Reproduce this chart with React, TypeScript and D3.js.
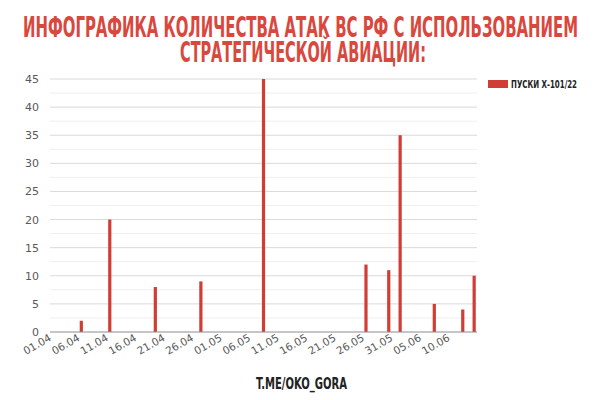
import React from "react";
import * as d3 from "d3";

const titleLines = [
  "ИНФОГРАФИКА КОЛИЧЕСТВА АТАК  ВС РФ С ИСПОЛЬЗОВАНИЕМ",
  "СТРАТЕГИЧЕСКОЙ АВИАЦИИ:",
];
const seriesName = "ПУСКИ Х-101/22";
const footer = "T.ME/OKO_GORA";

const launchDates = ["06.04", "11.04", "19.04", "27.04", "08.05", "26.05", "30.05", "01.06", "07.06", "12.06", "14.06"];
const launches = [2, 20, 8, 9, 45, 12, 11, 35, 5, 4, 10];

const tickLabels = ["01.04", "06.04", "11.04", "16.04", "21.04", "26.04", "01.05", "06.05", "11.05", "16.05", "21.05", "26.05", "31.05", "05.06", "10.06"];
const yTicks = [0, 5, 10, 15, 20, 25, 30, 35, 40, 45];

const axisStart = "01.04";
const axisEnd = "15.06";

const parse = (s: string) => {
  const [d, m] = s.split(".").map(Number);
  return new Date(Date.UTC(2024, m - 1, d));
};

const W = 605;
const H = 400;
const m = { left: 50, right: 128, top: 79, bottom: 68 };

export default function App() {
  const x = d3.scaleUtc().domain([parse(axisStart), parse(axisEnd)]).range([m.left, W - m.right]);
  const y = d3.scaleLinear().domain([0, 45]).range([H - m.bottom, m.top]);
  const dayW = x(parse("02.04")) - x(parse("01.04"));
  const minor = d3.range(2.5, 45, 5);
  const red = "#cf3d35";
  const condensed = "'Liberation Sans Narrow', 'DejaVu Sans Condensed', 'Arial Narrow', sans-serif";

  return (
    <svg width={W} height={H} style={{ position: "absolute", left: 0, top: 0, background: "#fff" }}>
      <rect x={0} y={0} width={W} height={H} fill="#fff" />
      <text x={23} y={37} fill="#d9473d" fontFamily={condensed} fontWeight="bold" fontSize={28}
        textLength={555} lengthAdjust="spacingAndGlyphs">{titleLines[0]}</text>
      <text x={180} y={62} fill="#d9473d" fontFamily={condensed} fontWeight="bold" fontSize={28}
        textLength={246} lengthAdjust="spacingAndGlyphs">{titleLines[1]}</text>

      {minor.map((v) => (
        <line key={"mi" + v} x1={m.left} x2={W - m.right} y1={y(v)} y2={y(v)} stroke="#efefef" strokeWidth={1} />
      ))}
      {yTicks.filter((v) => v > 0).map((v) => (
        <line key={"ma" + v} x1={m.left} x2={W - m.right} y1={y(v)} y2={y(v)} stroke="#d9d9d9" strokeWidth={1} />
      ))}
      {yTicks.map((v) => (
        <text key={"yl" + v} x={39} y={y(v) + 4} textAnchor="end" fill="#595959"
          fontFamily="'DejaVu Sans', sans-serif" fontSize={11}>{v}</text>
      ))}

      {launches.map((v, i) => {
        const cx = x(parse(launchDates[i])) + dayW / 2;
        return <rect key={"b" + i} x={cx - 1.6} y={y(v)} width={3.2} height={y(0) - y(v)} fill={red} />;
      })}

      <line x1={m.left} x2={W - m.right} y1={y(0)} y2={y(0)} stroke="#8c8c8c" strokeWidth={1} />

      {tickLabels.map((t) => {
        const tx = x(parse(t)) + 2;
        const ty = y(0) + 8;
        return (
          <text key={"xt" + t} transform={`translate(${tx},${ty}) rotate(-30)`} textAnchor="end"
            fill="#595959" fontFamily="'DejaVu Sans', sans-serif" fontSize={10.5}>{t}</text>
        );
      })}

      <rect x={488} y={80} width={20} height={8} fill={red} />
      <text x={511} y={88} fill="#222" fontFamily={condensed} fontWeight="bold" fontSize={10}
        textLength={66} lengthAdjust="spacingAndGlyphs">{seriesName}</text>

      <text x={256} y={389} fill="#222" fontFamily={condensed} fontWeight="bold" fontSize={16}
        textLength={91} lengthAdjust="spacingAndGlyphs">{footer}</text>
    </svg>
  );
}
